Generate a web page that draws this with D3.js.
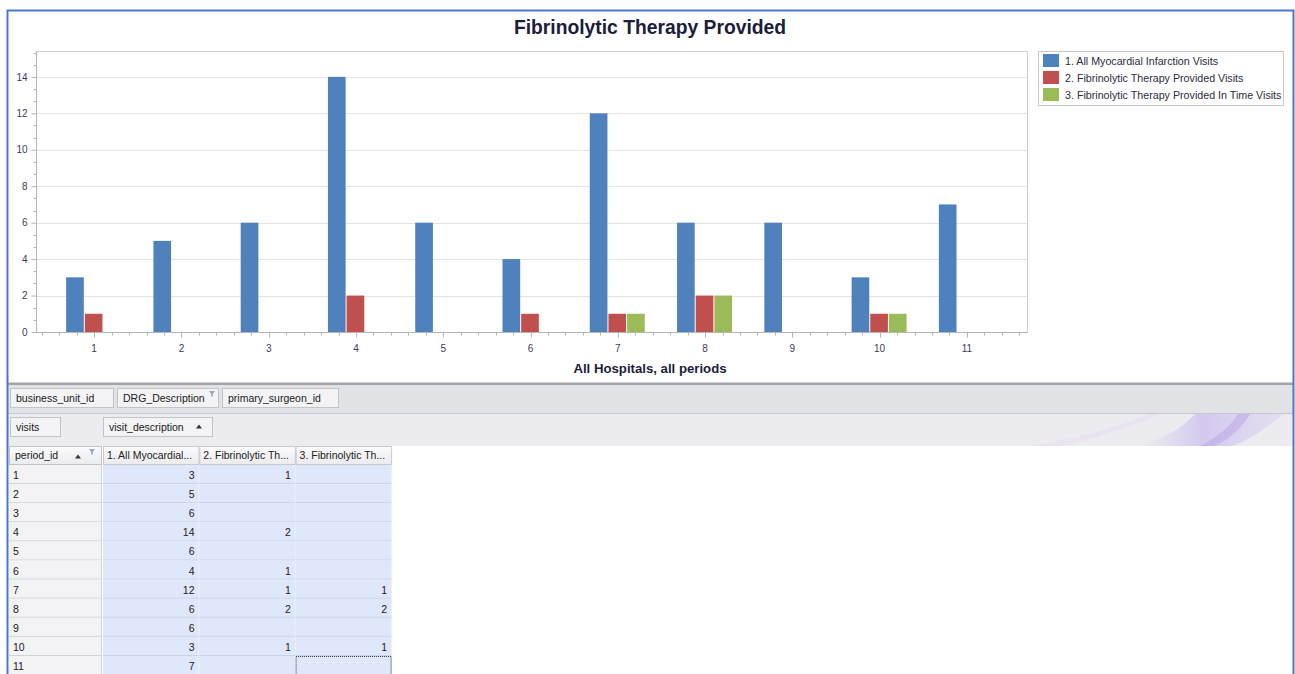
<!DOCTYPE html>
<html>
<head>
<meta charset="utf-8">
<script src="https://cdn.jsdelivr.net/npm/d3@7"></script>
<style>
  html, body { margin: 0; padding: 0; background: #fff; }
  svg { display: block; }
  text { font-family: "Liberation Sans", "DejaVu Sans", sans-serif; }
</style>
</head>
<body>
<svg id="root" width="1295" height="674"></svg>
<script>
// ---- data ----
const periods = ["1", "2", "3", "4", "5", "6", "7", "8", "9", "10", "11"];
const seriesNames = [
  "1. All Myocardial Infarction Visits",
  "2. Fibrinolytic Therapy Provided Visits",
  "3. Fibrinolytic Therapy Provided In Time Visits"
];
const allMiVisits      = [3, 5, 6, 14, 6, 4, 12, 6, 6, 3, 7];
const therapyVisits    = [1, null, null, 2, null, 1, 1, 2, null, 1, null];
const inTimeVisits     = [null, null, null, null, null, null, 1, 2, null, 1, null];
const yTickValues      = [0, 2, 4, 6, 8, 10, 12, 14];
const seriesColors     = ["#4f81bd", "#c0504d", "#9bbb59"];
const filterFields     = ["business_unit_id", "DRG_Description", "primary_surgeon_id"];
const dataFields       = ["visits"];
const columnField      = "visit_description";
const rowField         = "period_id";
const chartTitle       = "Fibrinolytic Therapy Provided";
const axisTitle        = "All Hospitals, all periods";

const seriesValues = [allMiVisits, therapyVisits, inTimeVisits];

const svg = d3.select("#root");

// ---- chart frame ----
const plot = { left: 36, right: 1027, top: 51, bottom: 332 };

const x = d3.scaleBand()
  .domain(periods)
  .range([plot.left + 14.5, plot.right - 16.5]);
const xSeries = d3.scaleBand()
  .domain(seriesNames)
  .range([-28, 28]);
const y = d3.scaleLinear()
  .domain([0, 15.42])
  .range([plot.bottom, plot.top]);

// title
svg.append("text")
  .attr("x", 650).attr("y", 34)
  .attr("text-anchor", "middle")
  .attr("font-size", 19.3).attr("font-weight", "bold")
  .attr("fill", "#1b1d3a")
  .text(chartTitle);

// gridlines
svg.append("g").selectAll("line")
  .data(yTickValues.filter(v => v > 0))
  .join("line")
  .attr("x1", plot.left).attr("x2", plot.right)
  .attr("y1", d => Math.round(y(d)) + 0.5).attr("y2", d => Math.round(y(d)) + 0.5)
  .attr("stroke", "#e3e3e3");

// plot border (top / right)
svg.append("path")
  .attr("d", `M${plot.left},${plot.top + 0.5}H${plot.right + 0.5}V${plot.bottom}`)
  .attr("fill", "none").attr("stroke", "#cfcfcf");

// bars
const groups = svg.append("g").selectAll("g")
  .data(periods)
  .join("g")
  .attr("transform", d => `translate(${x(d) + x.bandwidth() / 2},0)`);

groups.selectAll("rect")
  .data((p, i) => seriesNames.map((s, k) => ({ s, k, v: seriesValues[k][i] })).filter(d => d.v != null))
  .join("rect")
  .attr("x", d => xSeries(d.s))
  .attr("width", xSeries.bandwidth() - 1)
  .attr("y", d => y(d.v))
  .attr("height", d => y(0) - y(d.v))
  .attr("fill", d => seriesColors[d.k]);

// y axis
const yAxis = svg.append("g").attr("transform", `translate(${plot.left + 0.5},0)`);
yAxis.call(d3.axisLeft(y).tickValues(yTickValues).tickSize(5).tickPadding(4).tickFormat(d3.format("d")));
yAxis.select(".domain").attr("stroke", "#b4b4b4").attr("d", `M0,${plot.top}V${plot.bottom}`);
yAxis.selectAll(".tick line").attr("stroke", "#b4b4b4");
yAxis.selectAll(".tick text").attr("font-size", 10).attr("fill", "#3a3a58")
  .attr("font-family", "'Liberation Sans', sans-serif");
// minor y ticks
const yMinor = d3.range(0, 15.42, 2 / 3).filter(v => Math.abs(v / 2 - Math.round(v / 2)) > 0.01);
yAxis.append("g").selectAll("line")
  .data(yMinor)
  .join("line")
  .attr("x1", -3).attr("x2", 0)
  .attr("y1", d => Math.round(y(d)) + 0.5).attr("y2", d => Math.round(y(d)) + 0.5)
  .attr("stroke", "#b4b4b4");

// x axis
const xAxis = svg.append("g").attr("transform", `translate(0,${plot.bottom + 0.5})`);
xAxis.append("line")
  .attr("x1", plot.left).attr("x2", plot.right + 1)
  .attr("stroke", "#b4b4b4");
const step = x.step();
const firstCenter = x(periods[0]) + x.bandwidth() / 2;
const minorX = d3.range(-3, periods.length * 5 - 1).map(k => firstCenter + k * step / 5)
  .filter(v => v > plot.left + 2 && v < plot.right - 2);
xAxis.append("g").selectAll("line")
  .data(minorX)
  .join("line")
  .attr("x1", d => Math.round(d) + 0.5).attr("x2", d => Math.round(d) + 0.5)
  .attr("y1", 0).attr("y2", 3)
  .attr("stroke", "#b4b4b4");
xAxis.append("g").selectAll("line")
  .data(periods)
  .join("line")
  .attr("x1", d => Math.round(x(d) + x.bandwidth() / 2) + 0.5)
  .attr("x2", d => Math.round(x(d) + x.bandwidth() / 2) + 0.5)
  .attr("y1", 0).attr("y2", 5)
  .attr("stroke", "#b4b4b4");
xAxis.append("g").selectAll("text")
  .data(periods)
  .join("text")
  .attr("x", d => x(d) + x.bandwidth() / 2)
  .attr("y", 19)
  .attr("text-anchor", "middle")
  .attr("font-size", 10).attr("fill", "#3a3a64")
  .text(d => d);

svg.append("text")
  .attr("x", 650).attr("y", 373)
  .attr("text-anchor", "middle")
  .attr("font-size", 13.2).attr("font-weight", "bold")
  .attr("fill", "#1b1d3a")
  .text(axisTitle);

// legend
const legend = svg.append("g");
legend.append("rect")
  .attr("x", 1038.5).attr("y", 51.5).attr("width", 245).attr("height", 54)
  .attr("fill", "#fff").attr("stroke", "#c9c9c9");
const li = legend.selectAll("g.item")
  .data(seriesNames)
  .join("g").attr("class", "item")
  .attr("transform", (d, i) => `translate(1043,${54 + i * 17})`);
li.append("rect")
  .attr("width", 16).attr("height", 13)
  .attr("fill", (d, i) => seriesColors[i]);
li.append("text")
  .attr("x", 22).attr("y", 10.5)
  .attr("font-size", 10.7).attr("fill", "#2c2c3c")
  .text(d => d);

// ---- pivot grid area ----
const grid = svg.append("g");
grid.append("rect").attr("x", 8).attr("y", 382.5).attr("width", 1285).attr("height", 2.5).attr("fill", "#a2a4aa");
grid.append("rect").attr("x", 8).attr("y", 385).attr("width", 1285).attr("height", 28).attr("fill", "#e1e2e6");
grid.append("rect").attr("x", 8).attr("y", 413).attr("width", 1285).attr("height", 1).attr("fill", "#c6c7cd");
grid.append("rect").attr("x", 8).attr("y", 414).attr("width", 1285).attr("height", 32).attr("fill", "#ececf0");

// decorative swooshes in the header band
const defs = svg.append("defs");
const grad = defs.append("linearGradient").attr("id", "swoosh").attr("x1", 0).attr("x2", 1).attr("y1", 0).attr("y2", 0);
grad.append("stop").attr("offset", "0").attr("stop-color", "#d9cff0").attr("stop-opacity", 0);
grad.append("stop").attr("offset", "0.45").attr("stop-color", "#cbbcec").attr("stop-opacity", 0.75);
grad.append("stop").attr("offset", "1").attr("stop-color", "#d6cbef").attr("stop-opacity", 0.4);
const clip = defs.append("clipPath").attr("id", "bandClip");
clip.append("rect").attr("x", 8).attr("y", 414).attr("width", 1285).attr("height", 32);
const sw = grid.append("g").attr("clip-path", "url(#bandClip)");
sw.append("path")
  .attr("d", "M1135,446 C1165,440 1185,425 1195,414 L1285,414 C1270,425 1250,440 1232,446 Z")
  .attr("fill", "url(#swoosh)");
sw.append("path")
  .attr("d", "M1200,446 C1220,436 1232,424 1238,414 L1250,414 C1242,428 1228,440 1215,446 Z")
  .attr("fill", "#b39ee4").attr("opacity", 0.45);
sw.append("path")
  .attr("d", "M1030,446 C1080,438 1120,426 1150,414 L1160,414 C1130,428 1090,440 1060,446 Z")
  .attr("fill", "#e8deef").attr("opacity", 0.6);

function fieldButton(label, bx, by, bw, opts = {}) {
  const g = grid.append("g").attr("transform", `translate(${bx},${by})`);
  g.append("rect").attr("x", 0.5).attr("y", 0.5).attr("width", bw).attr("height", 19)
    .attr("fill", "#f3f3f5").attr("stroke", "#c3c4ca");
  g.append("text").attr("x", 6).attr("y", 13.5).attr("font-size", 10.5).attr("fill", "#202020").text(label);
  if (opts.filter) {
    g.append("path").attr("d", `M${bw - 9},3 h6 l-2.2,3 v3 l-1.6,-1 v-2 z`).attr("fill", "#9aa6c0");
  }
  if (opts.sortAt) {
    g.append("path").attr("d", `M${opts.sortAt},11.5 l3,-4 l3,4 z`).attr("fill", "#333");
  }
}
fieldButton(filterFields[0], 10, 388, 103);
fieldButton(filterFields[1], 117, 388, 101, { filter: true });
fieldButton(filterFields[2], 222, 388, 116);
fieldButton(dataFields[0], 10, 417, 50);
fieldButton(columnField, 103, 417, 109, { sortAt: 93 });

// table
const rowTop = 465, rowH = 19.1;
const rowHeaderX = [9, 101];
const colX = seriesNames.map((s, i) => 103 + i * 96.3);
const colW = 95.5;

const hg = defs.append("linearGradient").attr("id", "hdr").attr("x1", 0).attr("x2", 0).attr("y1", 0).attr("y2", 1);
hg.append("stop").attr("offset", 0).attr("stop-color", "#fbfbfc");
hg.append("stop").attr("offset", 1).attr("stop-color", "#ebebee");

// row-field header
grid.append("rect").attr("x", rowHeaderX[0] + 0.5).attr("y", 446.5).attr("width", rowHeaderX[1] - rowHeaderX[0]).attr("height", 18)
  .attr("fill", "url(#hdr)").attr("stroke", "#c3c4ca");
grid.append("text").attr("x", 15).attr("y", 459).attr("font-size", 10.5).attr("fill", "#202020").text(rowField);
grid.append("path").attr("d", "M75,458.5 l3,-4 l3,4 z").attr("fill", "#333");
grid.append("path").attr("d", "M89,449 h6 l-2.2,3 v3 l-1.6,-1 v-2 z").attr("fill", "#9aa6c0");

// column headers (truncated to fit)
const colHeaders = grid.selectAll("g.colh")
  .data(seriesNames)
  .join("g").attr("class", "colh")
  .attr("transform", (d, i) => `translate(${colX[i]},446)`);
colHeaders.append("rect").attr("x", 0.5).attr("y", 0.5).attr("width", colW).attr("height", 18)
  .attr("fill", "url(#hdr)").attr("stroke", "#c9cad0");
colHeaders.append("text").attr("x", 4).attr("y", 13).attr("font-size", 10.5).attr("fill", "#202020")
  .each(function (d) {
    const t = d3.select(this);
    t.text(d);
    if (this.getComputedTextLength() > colW - 6) {
      let s = d;
      while (s.length > 1) {
        s = s.slice(0, -1);
        t.text(s.trimEnd() + "...");
        if (this.getComputedTextLength() <= colW - 6) break;
      }
    }
  });

// body rows
const rows = grid.selectAll("g.row")
  .data(periods)
  .join("g").attr("class", "row")
  .attr("transform", (d, i) => `translate(0,${rowTop + i * rowH})`);
rows.append("rect").attr("x", rowHeaderX[0]).attr("y", 0).attr("width", rowHeaderX[1] - rowHeaderX[0]).attr("height", rowH)
  .attr("fill", "#f3f3f5");
rows.append("line").attr("x1", rowHeaderX[0]).attr("x2", rowHeaderX[1]).attr("y1", rowH - 0.5).attr("y2", rowH - 0.5)
  .attr("stroke", "#d2d3d8");
rows.append("line").attr("x1", rowHeaderX[1] + 0.5).attr("x2", rowHeaderX[1] + 0.5).attr("y1", 0).attr("y2", rowH)
  .attr("stroke", "#d2d3d8");
rows.append("text").attr("x", 13).attr("y", 14).attr("font-size", 10.5).attr("fill", "#202020").text(d => d);

rows.each(function (p, i) {
  const r = d3.select(this);
  seriesNames.forEach((s, k) => {
    r.append("rect").attr("x", colX[k]).attr("y", 0).attr("width", colW + 0.8).attr("height", rowH)
      .attr("fill", "#dfe8fa");
    r.append("line").attr("x1", colX[k]).attr("x2", colX[k] + colW + 0.8).attr("y1", rowH - 0.5).attr("y2", rowH - 0.5)
      .attr("stroke", "#c9d3e6");
    r.append("line").attr("x1", colX[k] + colW + 0.5).attr("x2", colX[k] + colW + 0.5).attr("y1", 0).attr("y2", rowH)
      .attr("stroke", "#edf1fa");
    const v = seriesValues[k][i];
    if (v != null) {
      r.append("text").attr("x", colX[k] + colW - 4).attr("y", 14).attr("text-anchor", "end")
        .attr("font-size", 10.5).attr("fill", "#202020").text(v);
    }
  });
});

// focused cell
const lastRow = periods.length - 1;
grid.append("rect")
  .attr("x", colX[2] + 0.5).attr("y", rowTop + lastRow * rowH + 0.5)
  .attr("width", colW - 0.5).attr("height", rowH)
  .attr("fill", "none").attr("stroke", "#333").attr("stroke-dasharray", "1,1");

// outer frame
svg.append("path")
  .attr("d", "M7.5,674 V10.5 H1293.5 V674")
  .attr("fill", "none").attr("stroke", "#4a78c9").attr("stroke-width", 2);
</script>
</body>
</html>
